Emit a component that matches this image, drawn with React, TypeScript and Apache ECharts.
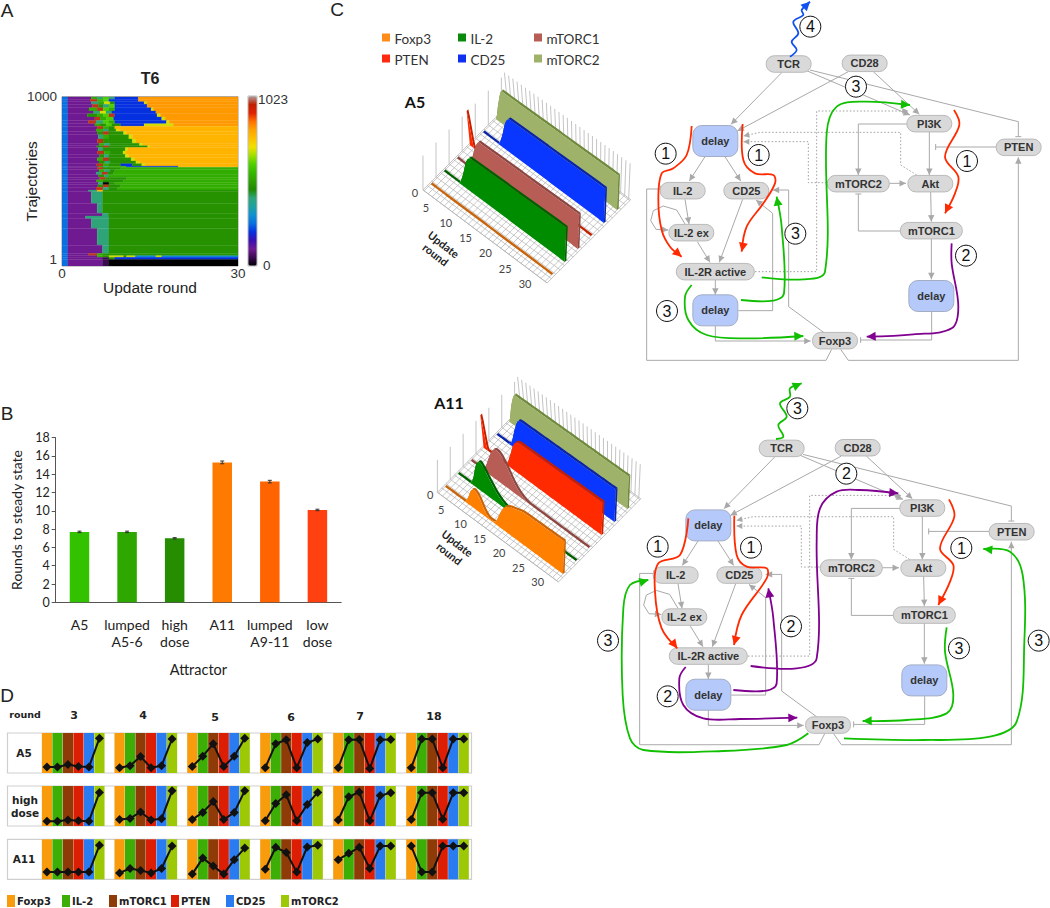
import React, { useEffect, useRef } from "react";
import * as echarts from "echarts";

// ---------- Panel A data ----------
const B = 255, P = 102, T = 410, G = 480, L = 540, O = 790, U = 830, K = 205, Y = 700, S = 980, D = 50, C = 300, E = 0, M = 610;
const heatRows: [number, number, number[]][] = [
  [1000, 985, [1, B, 5, P, 6, L, 7, T, 8, M, 9, T, 13, K, 30, U]],
  [985, 970, [1, B, 4.8, P, 6, S, 7, L, 8, M, 9.2, K, 13, K, 30, U]],
  [970, 955, [1, B, 5, P, 6.3, T, 7.2, L, 8.2, Y, 9, G, 14, K, 14.5, Y, 30, U]],
  [955, 935, [1, B, 5.2, P, 6.2, S, 7, G, 8, T, 9, M, 14.5, K, 30, U]],
  [935, 915, [1, B, 4.6, P, 6, L, 7, S, 8, M, 9, L, 15.2, K, 15.6, Y, 30, U]],
  [915, 900, [1, B, 5.4, P, 6.5, T, 7.5, Y, 8.5, T, 16, K, 30, U]],
  [900, 880, [1, B, 4.3, P, 6, G, 7, L, 8, M, 9, S, 16.2, K, 16.8, Y, 30, U]],
  [880, 860, [1, B, 5.6, P, 6.5, S, 7.6, L, 8.8, M, 17, K, 17.6, Y, 30, U]],
  [860, 840, [1, B, 4.5, P, 5.8, S, 7, T, 8, M, 9, L, 17.8, K, 18.3, Y, 30, U]],
  [840, 826, [1, B, 5.6, P, 6.5, L, 7.5, G, 8.5, M, 10, G, 14, K, 19, Y, 30, U]],
  [826, 810, [1, B, 6, P, 7, S, 8, L, 9, G, 30, O]],
  [810, 795, [1, B, 5.8, P, 7, L, 8, T, 9.2, G, 9.8, Y, 30, O]],
  [795, 775, [1, B, 6, P, 7, G, 8, S, 10.5, G, 11, Y, 30, O]],
  [775, 750, [1, B, 6.2, P, 7, T, 8, L, 11.4, G, 12, Y, 30, O]],
  [750, 725, [1, B, 6, P, 7, S, 8, G, 12, G, 12.6, Y, 30, O]],
  [725, 710, [1, B, 6.3, P, 7.2, L, 8.2, T, 13.2, G, 13.8, Y, 30, O]],
  [710, 700, [1, B, 5.9, P, 7, G, 8, S, 14.6, G, 15, Y, 30, O]],
  [700, 680, [1, B, 6.2, P, 7, T, 8, G, 10.8, G, 11.2, Y, 30, O]],
  [680, 660, [1, B, 6, P, 7.2, S, 8.2, L, 10.4, G, 10.9, Y, 30, O]],
  [660, 640, [1, B, 6.4, P, 7.2, G, 8, T, 10.8, G, 11.4, Y, 30, O]],
  [640, 620, [1, B, 6, P, 7, L, 8, S, 11.8, G, 12.4, Y, 30, O]],
  [620, 605, [1, B, 6.3, P, 7.3, G, 8.2, T, 12.6, G, 13.2, Y, 30, O]],
  [605, 590, [1, B, 5.9, P, 7, S, 8, L, 10, G, 12, K, 13.6, G, 14.2, Y, 30, O]],
  [590, 583, [1, B, 6.1, P, 7, G, 8, T, 11, L, 19.8, K, 30, O]],
  [583, 570, [1, B, 6, P, 7, S, 8, G, 10, G, 11, L, 30, L]],
  [570, 555, [1, B, 6.3, P, 7.2, L, 8.2, T, 9, G, 30, L]],
  [555, 540, [1, B, 5.8, P, 6.8, T, 7.8, S, 8.8, G, 30, L]],
  [540, 525, [1, B, 6.2, P, 7.2, G, 8, T, 30, L]],
  [525, 510, [1, B, 6.4, P, 7.4, S, 8.1, G, 11, G, 30, L]],
  [510, 495, [1, B, 5.9, P, 7, L, 8, G, 10.5, G, 30, L]],
  [495, 480, [1, B, 6.2, P, 7, T, 8, E, 9, G, 30, L]],
  [480, 465, [1, B, 6.1, P, 7, G, 8, S, 10, G, 30, L]],
  [465, 449, [1, B, 5.8, P, 7, S, 8, T, 9.5, G, 30, L]],
  [449, 439, [1, B, 4.5, P, 6, T, 7, O, 9, G, 30, G]],
  [439, 370, [1, B, 5, P, 6.9, T, 30, G]],
  [370, 312, [1, B, 6, P, 6.9, T, 30, G]],
  [312, 296, [1, B, 6.9, P, 7.9, T, 30, G]],
  [296, 280, [1, B, 4, P, 8, T, 30, G]],
  [280, 223, [1, B, 5, P, 8, T, 30, G]],
  [223, 124, [1, B, 6, P, 8, T, 30, G]],
  [124, 75, [1, B, 6.9, P, 8, T, 30, G]],
  [75, 62, [1, B, 4.5, P, 6, S, 7, L, 8, G, 30, G]],
  [62, 52, [1, B, 6, P, 7, L, 8, G, 10.5, Y, 11, G, 12.5, Y, 16, C, 17, Y, 30, C]],
  [52, 40, [1, B, 6.9, P, 8, D, 9, G, 30, K]],
  [40, 1, [1, B, 6.9, P, 8, D, 30, E]],
];
const colorbarStops = ["#000000", "#3a0a50", "#701a92", "#3a10b0", "#0530e0", "#0a70e0", "#1090d0", "#20a0a0", "#2fa47a", "#208a00", "#2fa000", "#35b800", "#50d000", "#a0e000", "#f0e000", "#ffc000", "#ffa500", "#ff7000", "#e02000", "#c02000", "#b0a0a0"];

// ---------- Panel B data ----------
const attractors = ["A5", "lumped\nA5-6", "high\ndose", "A11", "lumped\nA9-11", "low\ndose"];
const roundsToSteady = [7.7, 7.7, 7.0, 15.3, 13.2, 10.1];
const steadyError = [0.08, 0.08, 0.07, 0.15, 0.14, 0.08];
const attractorColors = ["#33c200", "#2ea800", "#268c00", "#ff7a00", "#ff6400", "#ff4010"];

// ---------- Panel D data ----------
const dGenes = ["Foxp3", "IL-2", "mTORC1", "PTEN", "CD25", "mTORC2"];
const dColors = ["#f89c0e", "#3dae05", "#8f3b08", "#dc1e05", "#2a7af0", "#9cc805"];
const dRounds = ["3", "4", "5", "6", "7", "18"];
const dA5 = [[.15, .15, .21, .16, .15, .87], [.13, .18, .41, .13, .18, .85], [.16, .42, .73, .16, .42, .87], [.13, .73, .83, .13, .76, .85], [.13, .83, .84, .11, .83, .84], [.13, .85, .85, .13, .85, .85]];
const dHigh = [[.12, .12, .15, .13, .12, .84], [.16, .19, .35, .15, .18, .88], [.16, .34, .61, .16, .34, .88], [.13, .56, .78, .13, .54, .84], [.15, .73, .85, .13, .76, .83], [.16, .83, .83, .17, .83, .83]];
const dA11 = [[.18, .18, .18, .18, .18, .85], [.16, .27, .22, .16, .27, .83], [.13, .53, .33, .13, .49, .78], [.25, .8, .67, .18, .81, .85], [.49, .65, .8, .27, .83, .83], [.83, .18, .18, .83, .83, .83]];
const dRows = [dA5, dHigh, dA11];

// ---------- Panel C waterfall data: activity per update round 0..30 ----------
const wRounds = [0, 5, 10, 15, 20, 25, 30];
const a5Levels: number[][] = [
  [0, 0, 0, 0, 0, 0, 0, 0, 0, 0, 0, 0, 0, 0, 0, 0, 0, 0, 0, 0, 0, 0, 0, 0, 0, 0, 0, 0, 0, 0, 0],
  [0, 0, 0, 0, .03, .35, .8, 1, 1, 1, 1, 1, 1, 1, 1, 1, 1, 1, 1, 1, 1, 1, 1, 1, 1, 1, 1, 1, 1, 1, 1],
  [0, 0, 0, .05, .35, .75, 1, 1, 1, 1, 1, 1, 1, 1, 1, 1, 1, 1, 1, 1, 1, 1, 1, 1, 1, 1, 1, 1, 1, 1, 1],
  [1, 0, 0, 0, 0, 0, 0, 0, 0, 0, 0, 0, 0, 0, 0, 0, 0, 0, 0, 0, 0, 0, 0, 0, 0, 0, 0, 0, 0, 0, 0],
  [0, 0, 0, 0, .03, .35, .8, 1, 1, 1, 1, 1, 1, 1, 1, 1, 1, 1, 1, 1, 1, 1, 1, 1, 1, 1, 1, 1, 1, 1, 1],
  [0, .55, 1, 1, 1, 1, 1, 1, 1, 1, 1, 1, 1, 1, 1, 1, 1, 1, 1, 1, 1, 1, 1, 1, 1, 1, 1, 1, 1, 1, 1],
];
const a11Levels: number[][] = [
  [0, 0, 0, 0, 0, 0, .2, .52, .58, .45, .22, .07, .04, .1, .4, .68, .82, .88, .92, .96, 1, 1, 1, 1, 1, 1, 1, 1, 1, 1, 1],
  [0, 0, 0, 0, .2, .7, .9, .8, .62, .45, .3, .2, .13, .08, .03, 0, 0, 0, 0, 0, 0, 0, 0, 0, 0, 0, 0, 0, 0, 0, 0],
  [0, 0, 0, .02, .2, .55, .85, .95, .9, .75, .55, .35, .2, .1, .03, 0, 0, 0, 0, 0, 0, 0, 0, 0, 0, 0, 0, 0, 0, 0, 0],
  [1, 0, 0, 0, 0, 0, .05, .4, .8, .97, 1, 1, 1, 1, 1, 1, 1, 1, 1, 1, 1, 1, 1, 1, 1, 1, 1, 1, 1, 1, 1],
  [0, 0, 0, 0, .15, .6, .95, 1, 1, 1, 1, 1, 1, 1, 1, 1, 1, 1, 1, 1, 1, 1, 1, 1, 1, 1, 1, 1, 1, 1, 1],
  [0, .6, 1, 1, 1, 1, 1, 1, 1, 1, 1, 1, 1, 1, 1, 1, 1, 1, 1, 1, 1, 1, 1, 1, 1, 1, 1, 1, 1, 1, 1],
];
const wFace = ["#ff7f00", "#008c00", "#b85c56", "#ff2a00", "#0a37ff", "#9fb26a"];
const wTop = ["#c8640a", "#006000", "#8e4640", "#c42000", "#0a24a8", "#6f8a3a"];
const cLegend = ["Foxp3", "IL-2", "mTORC1", "PTEN", "CD25", "mTORC2"];
const cLegendColors = ["#ff8c1a", "#0a8a0a", "#b85c56", "#ff2a10", "#1030f0", "#9fb26a"];

// ---------- Panel C network ----------
type Pt = [number, number];
const nodes: [string, number, number, number, boolean][] = [
  ["TCR", 476, 192, 135, false], ["CD28", 704, 190, 135, false], ["PI3K", 898, 371, 135, false], ["PTEN", 1166, 442, 135, false],
  ["delay", 256, 423, 135, true], ["IL-2", 158, 572, 135, false], ["CD25", 349, 572, 135, false], ["mTORC2", 685, 551, 186, false],
  ["Akt", 901, 551, 135, false], ["mTORC1", 904, 692, 186, false], ["IL-2 ex", 184, 698, 135, false], ["IL-2R active", 256, 815, 234, false],
  ["delay", 256, 931, 135, true], ["delay", 904, 888, 135, true], ["Foxp3", 615, 1022, 135, false],
];
const arrowEdges: Pt[][] = [
  [[455, 218], [303, 373]], [[655, 215], [322, 393]], [[530, 212], [840, 345]], [[730, 215], [868, 343]],
  [[832, 372], [685, 372], [685, 525]], [[898, 395], [898, 525]], [[778, 550], [828, 550]], [[902, 575], [904, 665]],
  [[904, 715], [904, 838]], [[225, 470], [178, 543]], [[285, 470], [332, 543]], [[165, 598], [177, 672]],
  [[165, 672], [140, 630], [100, 618], [70, 632], [62, 662], [78, 688], [115, 690]], [[202, 725], [240, 787]], [[338, 598], [268, 787]],
  [[256, 840], [256, 884]], [[325, 932], [428, 932], [428, 640], [378, 600]], [[256, 978], [256, 1023], [542, 1023]],
  [[582, 998], [476, 920], [476, 570], [428, 570]], [[632, 1048], [655, 1081], [1165, 1081], [1165, 472]],
];
const barEdges: Pt[][] = [
  [[540, 210], [1165, 365], [1165, 410]], [[812, 693], [685, 693], [685, 582]], [[905, 935], [905, 1020], [692, 1020]],
  [[1098, 441], [917, 441]], [[605, 1048], [588, 1081], [50, 1081], [50, 567], [92, 567]],
];
const dottedEdges: Pt[][] = [
  [[375, 815], [560, 815], [560, 333], [835, 333]],
  [[860, 525], [812, 495], [812, 397], [390, 397], [340, 408]],
  [[590, 548], [535, 548], [535, 425], [340, 425]],
];
const RED = "#ff2a00", GRN = "#10c000", PUR = "#800090", BLU = "#1050f0";
const overlay1: [string, Pt[]][] = [
  [BLU, [[480, 170], [500, 150], [485, 125], [505, 100], [490, 65], [520, 45], [515, 30], [540, 5]]],
  [RED, [[185, 378], [170, 465], [130, 505], [95, 520], [85, 600], [95, 690], [120, 740], [155, 770]]],
  [RED, [[338, 372], [340, 480], [375, 520], [430, 525], [435, 550], [400, 610], [350, 680], [335, 755]]],
  [RED, [[972, 330], [988, 375], [945, 470], [985, 530], [975, 580], [945, 640]]],
  [GRN, [[395, 832], [520, 838], [585, 815], [590, 400], [620, 320], [700, 305], [840, 315]]],
  [GRN, [[333, 900], [430, 902], [462, 880], [455, 680], [440, 590]]],
  [GRN, [[185, 855], [165, 890], [175, 960], [230, 1005], [350, 1015], [520, 1008]]],
  [PUR, [[965, 730], [965, 790], [985, 920], [965, 985], [850, 1003], [710, 1010]]],
];
const circles1: [string, number, number][] = [["4", 541, 80], ["3", 678, 260], ["1", 107, 461], ["1", 386, 465], ["1", 1011, 483], ["2", 1008, 767], ["3", 496, 701], ["3", 111, 933]];
const overlay2: [string, Pt[]][] = [
  [GRN, [[558, 192], [580, 185], [565, 150], [590, 125], [570, 85], [600, 65], [600, 40], [635, 25]]],
  [RED, [[295, 430], [270, 540], [205, 565], [195, 650], [215, 760], [262, 820]]],
  [RED, [[433, 422], [440, 540], [470, 575], [530, 580], [530, 610], [455, 720], [432, 810]]],
  [RED, [[1077, 373], [1093, 425], [1050, 520], [1090, 570], [1080, 620], [1045, 690]]],
  [PUR, [[482, 873], [620, 880], [680, 850], [680, 500], [690, 400], [740, 350], [810, 345], [925, 355]]],
  [PUR, [[430, 945], [530, 947], [560, 925], [550, 730], [535, 640]]],
  [PUR, [[287, 876], [268, 910], [280, 990], [340, 1030], [450, 1032], [622, 1028]]],
  [GRN, [[1070, 757], [1065, 830], [1090, 960], [1070, 1015], [950, 1035], [818, 1038]]],
  [GRN, [[655, 1075], [590, 1110], [400, 1128], [160, 1125], [120, 1090], [98, 960], [100, 700], [120, 630], [175, 615]]],
  [GRN, [[762, 1090], [1000, 1095], [1200, 1085], [1280, 1040], [1303, 800], [1298, 600], [1260, 530], [1180, 522]]],
];
const circles2: [string, number, number][] = [["3", 622, 100], ["2", 769, 296], ["1", 203, 515], ["1", 483, 518], ["1", 1114, 519], ["3", 1107, 820], ["2", 603, 754], ["2", 233, 964], ["3", 54, 797], ["3", 1346, 797]];

const HELV = "'Liberation Sans', Arial, sans-serif";
const CAL = "Lato, 'Open Sans', sans-serif";
const VERD = "'DejaVu Sans', sans-serif";

function txt(text: string, x: number, y: number, font: string, fill = "#222", align = "center", rotation = 0, z = 50) {
  return {
    type: "text", x, y, rotation, z, silent: true,
    style: { text, font, fill, align, textAlign: align, verticalAlign: "middle", textVerticalAlign: "middle", lineHeight: 13 },
  };
}
function arrowHead(a: Pt, b: Pt, len: number, hw: number, color: string, z: number) {
  const dx = b[0] - a[0], dy = b[1] - a[1], n = Math.hypot(dx, dy) || 1;
  const ux = dx / n, uy = dy / n;
  const bx = b[0] - ux * len, by = b[1] - uy * len;
  return {
    type: "polygon", z, silent: true,
    shape: { points: [b, [bx - uy * hw, by + ux * hw], [bx + uy * hw, by - ux * hw]] },
    style: { fill: color },
  };
}
function networkElements(map: (p: Pt) => Pt, overlayMap: (p: Pt) => Pt, overlays: [string, Pt[]][], circles: [string, number, number][]) {
  const out: any[] = [];
  const Z = 30;
  const gray = "#a9a9a9";
  arrowEdges.forEach((e) => {
    const pts = e.map(map);
    out.push({ type: "polyline", z: Z, silent: true, shape: { points: pts }, style: { stroke: gray, lineWidth: 1, fill: null } });
    out.push(arrowHead(pts[pts.length - 2], pts[pts.length - 1], 6.5, 3.2, gray, Z));
  });
  barEdges.forEach((e) => {
    const pts = e.map(map);
    out.push({ type: "polyline", z: Z, silent: true, shape: { points: pts }, style: { stroke: gray, lineWidth: 1, fill: null } });
    const a = pts[pts.length - 2], b = pts[pts.length - 1];
    const dx = b[0] - a[0], dy = b[1] - a[1], n = Math.hypot(dx, dy) || 1;
    out.push({ type: "line", z: Z, silent: true, shape: { x1: b[0] - (dy / n) * 3, y1: b[1] + (dx / n) * 3, x2: b[0] + (dy / n) * 3, y2: b[1] - (dx / n) * 3 }, style: { stroke: gray, lineWidth: 1 } });
  });
  dottedEdges.forEach((e) => {
    const pts = e.map(map);
    out.push({ type: "polyline", z: Z, silent: true, shape: { points: pts }, style: { stroke: "#a0a0a0", lineWidth: 1, lineDash: [1.5, 2], fill: null } });
    out.push(arrowHead(pts[pts.length - 2], pts[pts.length - 1], 6, 3, gray, Z));
  });
  nodes.forEach(([name, zx, zy, zw, blue]) => {
    const c = map([zx, zy]);
    const w = zw / 3, h = blue ? 31 : 16.5;
    out.push({
      type: "rect", z: Z + 1, silent: true,
      shape: { x: c[0] - w / 2, y: c[1] - h / 2, width: w, height: h, r: blue ? 9 : 8 },
      style: { fill: blue ? "#b5c9fa" : "#d9d9d9", stroke: blue ? "#a3adc4" : "#b9b9b9", lineWidth: 1 },
    });
    out.push(txt(name, c[0], c[1], `bold 11px ${HELV}`, "#333", "center", 0, Z + 2));
  });
  overlays.forEach(([color, raw]) => {
    const pts = raw.map(overlayMap);
    out.push({ type: "polyline", z: Z + 3, silent: true, shape: { points: pts, smooth: 0.35 }, style: { stroke: color, lineWidth: 1.8, fill: null } });
    out.push(arrowHead(pts[pts.length - 2], pts[pts.length - 1], 9, 4.5, color, Z + 3));
  });
  circles.forEach(([label, zx, zy]) => {
    const c = overlayMap([zx, zy]);
    out.push({ type: "circle", z: Z + 4, silent: true, shape: { cx: c[0], cy: c[1], r: 10.5 }, style: { fill: "#fff", stroke: "#111", lineWidth: 1 } });
    out.push(txt(label, c[0], c[1], `16px ${HELV}`, "#111", "center", 0, Z + 5));
  });
  return out;
}

function levelAt(arr: number[], t: number) {
  const i = Math.min(Math.floor(t), arr.length - 2);
  const f = t - i;
  const p0 = arr[Math.max(i - 1, 0)], p1 = arr[i], p2 = arr[i + 1], p3 = arr[Math.min(i + 2, arr.length - 1)];
  const v = 0.5 * (2 * p1 + (p2 - p0) * f + (2 * p0 - 5 * p1 + 4 * p2 - p3) * f * f + (3 * p1 - p0 - 3 * p2 + p3) * f * f * f);
  return Math.max(0, Math.min(1, v));
}
type Proj = { ox: number; oy: number; vx: number; vy: number; rx: number; ry: number; h: number };
const projA5: Proj = { ox: 430.7, oy: 184.3, vx: 13.07, vy: -13, rx: 4.03, ry: 3.02, h: 34.3 };
const projA11: Proj = { ox: 445, oy: 486.7, vx: 12.87, vy: -13, rx: 3.93, ry: 2.91, h: 32.5 };
function project(p: Proj, v: number, r: number, l: number): Pt {
  const lean = -3.3 + (4.7 * r) / 30;
  return [p.ox + p.vx * v + p.rx * r + lean * l, p.oy + p.vy * v + p.ry * r - p.h * l];
}

function waterfallSeries(p: Proj, levels: number[][], overlayAxis: number) {
  const common = { type: "custom", xAxisIndex: overlayAxis, yAxisIndex: overlayAxis, silent: true, clip: false, animation: false };
  const series: any[] = [];
  // floor and walls
  series.push({
    ...common, data: [[0, 0]],
    renderItem: (_: any, api: any) => {
      const c = (q: Pt) => api.coord(q);
      const ch: any[] = [];
      const v0 = -0.5, v1 = 5.9, r0 = -0.3, r1 = 30.5;
      ch.push({ type: "polygon", shape: { points: [project(p, v0, r0, 0), project(p, v1, r0, 0), project(p, v1, r1, 0), project(p, v0, r1, 0)].map(c) }, style: { fill: "#fff", stroke: "#aaa", lineWidth: 0.7 } });
      for (let r = 0; r <= 30; r++) ch.push({ type: "line", shape: { x1: c(project(p, v0, r, 0))[0], y1: c(project(p, v0, r, 0))[1], x2: c(project(p, v1, r, 0))[0], y2: c(project(p, v1, r, 0))[1] }, style: { stroke: "#b0b0b0", lineWidth: 0.7 } });
      for (let v = v0; v <= v1; v += 1 / 3) ch.push({ type: "line", shape: { x1: c(project(p, v, r0, 0))[0], y1: c(project(p, v, r0, 0))[1], x2: c(project(p, v, r1, 0))[0], y2: c(project(p, v, r1, 0))[1] }, style: { stroke: "#b0b0b0", lineWidth: 0.7 } });
      for (let v = v0; v <= v1; v += 1) { const a = c(project(p, v, r0, 0)), b = c(project(p, v, r0, 1)); ch.push({ type: "line", shape: { x1: a[0], y1: a[1], x2: a[0], y2: b[1] }, style: { stroke: "#bdbdbd", lineWidth: 0.9 } }); }
      for (let r = 0; r <= 30; r++) { const a = c(project(p, v1, r, 0)), b = c(project(p, v1, r, 1.02)); ch.push({ type: "line", shape: { x1: a[0], y1: a[1], x2: b[0], y2: b[1] }, style: { stroke: "#bdbdbd", lineWidth: 0.9 } }); }
      return { type: "group", children: ch };
    },
  });
  // back to front: ribbons
  for (let vi = 5; vi >= 0; vi--) {
    const arr = levels[vi];
    series.push({
      ...common,
      data: arr.map((l, r) => [r, l]),
      renderItem: (params: any, api: any) => {
        if (params.dataIndex !== 0) return null;
        const c = (q: Pt) => api.coord(q);
        const top: Pt[] = [];
        const base: Pt[] = [];
        for (let t = 0; t <= 30.001; t += 0.25) {
          top.push(project(p, vi, t, levelAt(arr, Math.min(t, 30))));
          base.push(project(p, vi, t, 0));
        }
        const back = top.map(([x, y]) => [x + 1.7, y - 1.7] as Pt);
        const last = top[top.length - 1], lastB = base[base.length - 1];
        const ch: any[] = [
          { type: "polygon", shape: { points: [...top, ...back.slice().reverse()].map(c) }, style: { fill: wTop[vi] } },
          { type: "polygon", shape: { points: [...top, ...base.slice().reverse()].map(c) }, style: { fill: wFace[vi] } },
          { type: "polygon", shape: { points: [last, [last[0] + 1.7, last[1] - 1.7] as Pt, [lastB[0] + 1.7, lastB[1] - 1.7] as Pt, lastB].map(c) }, style: { fill: wTop[vi] } },
        ];
        return { type: "group", children: ch };
      },
    });
  }
  return series;
}
function waterfallLabels(p: Proj) {
  const out: any[] = [];
  const s = p.h / 34.3;
  wRounds.forEach((r) => {
    const b = project(p, 0, r, 0);
    const dx = r === 0 ? 15.7 * s : (24.5 + r * 0.07) * s;
    out.push(txt(String(r), b[0] - dx, b[1] + 8.2 * s, `11px ${CAL}`, "#444"));
  });
  out.push(txt("Update\nround", p.ox + 9 * s, p.oy + 65 * s, `bold 11px ${CAL}`, "#222", "center", -0.66));
  return out;
}

export default function App() {
  const ref = useRef<HTMLDivElement>(null);
  useEffect(() => {
    const chart = echarts.init(ref.current!, undefined, { renderer: "svg" });

    const heatCells: number[][] = [];
    heatRows.forEach(([top, bottom, runs]) => {
      let x0 = 0;
      for (let i = 0; i < runs.length; i += 2) {
        if (runs[i] > x0) heatCells.push([x0, runs[i], top, bottom, runs[i + 1]]);
        x0 = Math.max(x0, runs[i]);
      }
    });

    const grids: any[] = [
      { left: 62, top: 96.7, width: 176, height: 169.3, show: true, borderColor: "#999", borderWidth: 1 },
      { left: 55.7, top: 437.7, width: 285.5, height: 164.6 },
    ];
    const xAxes: any[] = [
      {
        gridIndex: 0, type: "value", min: 0, max: 30, splitLine: { show: false },
        axisLine: { show: false }, axisTick: { show: false },
        axisLabel: { customValues: [0, 30], fontFamily: HELV, fontSize: 13.5, color: "#333", margin: 0 },
        name: "Update round", nameLocation: "middle", nameGap: 13, nameMoveOverlap: false, nameTextStyle: { fontFamily: HELV, fontSize: 15.5, color: "#222" },
      },
      {
        gridIndex: 1, type: "category", data: attractors,
        axisLine: { lineStyle: { color: "#555" } }, axisTick: { length: 4, lineStyle: { color: "#555" }, alignWithLabel: false },
        axisLabel: { fontFamily: CAL, fontSize: 14, color: "#222", margin: 14, lineHeight: 16.5, interval: 0 },
        name: "Attractor", nameLocation: "middle", nameGap: 60, nameTextStyle: { fontFamily: CAL, fontSize: 14.5, color: "#222" },
      },
    ];
    const yAxes: any[] = [
      {
        gridIndex: 0, type: "value", min: 1, max: 1000, splitLine: { show: false },
        axisLine: { show: false }, axisTick: { show: false },
        axisLabel: { customValues: [1, 1000], formatter: (v: number) => String(v), fontFamily: HELV, fontSize: 13.5, color: "#333", margin: 5, verticalAlignMinLabel: "bottom" },
        name: "Trajectories", nameLocation: "middle", nameGap: 23, nameMoveOverlap: false, nameTextStyle: { fontFamily: HELV, fontSize: 15.5, color: "#222" },
      },
      {
        gridIndex: 1, type: "value", min: 0, max: 18, interval: 2, splitLine: { show: false },
        axisLine: { show: true, lineStyle: { color: "#555" } }, axisTick: { show: true, length: 4, lineStyle: { color: "#555" } },
        axisLabel: { fontFamily: CAL, fontSize: 12.5, color: "#222", margin: 6 },
        name: "Rounds to steady state", nameLocation: "middle", nameGap: 32, nameTextStyle: { fontFamily: CAL, fontSize: 14, color: "#222" },
      },
    ];
    const series: any[] = [
      {
        type: "custom", xAxisIndex: 0, yAxisIndex: 0, data: heatCells, silent: true, clip: true,
        encode: { x: [0, 1], y: [2, 3] },
        renderItem: (_: any, api: any) => {
          const a = api.coord([api.value(0), api.value(2)]);
          const b = api.coord([api.value(1), api.value(3)]);
          const color = api.visual("color");
          return { type: "rect", shape: { x: a[0], y: a[1], width: b[0] - a[0], height: b[1] - a[1] }, style: { fill: color, stroke: color, lineWidth: 0.3 } };
        },
      },
      {
        type: "bar", xAxisIndex: 1, yAxisIndex: 1, barWidth: 19.5, silent: true,
        data: roundsToSteady.map((v, i) => ({ value: v, itemStyle: { color: attractorColors[i] } })),
      },
      {
        type: "custom", xAxisIndex: 1, yAxisIndex: 1, silent: true, z: 5,
        data: roundsToSteady.map((v, i) => [i, v - steadyError[i], v + steadyError[i]]),
        renderItem: (_: any, api: any) => {
          const lo = api.coord([api.value(0), api.value(1)]);
          const hi = api.coord([api.value(0), api.value(2)]);
          const st = { stroke: "#333", lineWidth: 1 };
          return {
            type: "group", children: [
              { type: "line", shape: { x1: lo[0], y1: lo[1], x2: hi[0], y2: hi[1] }, style: st },
              { type: "line", shape: { x1: lo[0] - 2, y1: lo[1], x2: lo[0] + 2, y2: lo[1] }, style: st },
              { type: "line", shape: { x1: hi[0] - 2, y1: hi[1], x2: hi[0] + 2, y2: hi[1] }, style: st },
            ],
          };
        },
      },
    ];

    // Panel D small multiples
    const dLeft = [41.7, 114.3, 187, 260, 333, 406];
    const dTop = [733, 786, 839.3];
    dRows.forEach((row, ri) => {
      row.forEach((vals, ci) => {
        const idx = grids.length;
        grids.push({ left: dLeft[ci], top: dTop[ri], width: 63, height: 40 });
        xAxes.push({ gridIndex: idx, type: "category", data: dGenes, show: false });
        yAxes.push({ gridIndex: idx, type: "value", min: 0, max: 1, show: false });
        series.push({
          type: "bar", xAxisIndex: idx, yAxisIndex: idx, barWidth: "97%", silent: true,
          data: dColors.map((c) => ({ value: 1, itemStyle: { color: c } })),
        });
        series.push({
          type: "line", xAxisIndex: idx, yAxisIndex: idx, data: vals, silent: true, z: 6,
          symbol: "diamond", symbolSize: 9, showSymbol: true, showAllSymbol: true,
          lineStyle: { color: "#111", width: 2 }, itemStyle: { color: "#111" },
        });
      });
    });

    // Overlay grid for the two 3-D waterfalls
    const ov = grids.length;
    grids.push({ left: 0, top: 0, width: 1050, height: 908 });
    xAxes.push({ gridIndex: ov, type: "value", min: 0, max: 1050, show: false });
    yAxes.push({ gridIndex: ov, type: "value", min: 0, max: 908, inverse: true, show: false });
    series.push(...waterfallSeries(projA5, a5Levels, ov));
    series.push(...waterfallSeries(projA11, a11Levels, ov));

    const gfx: any[] = [];
    gfx.push(txt("A", 7, 10, `19px ${HELV}`, "#222"));
    gfx.push(txt("B", 7, 413, `19px ${HELV}`, "#222"));
    gfx.push(txt("C", 337, 9, `19px ${HELV}`, "#222"));
    gfx.push(txt("D", 7, 695, `19px ${HELV}`, "#222"));
    gfx.push(txt("T6", 150, 78, `bold 16px ${HELV}`, "#222"));
    gfx.push(txt("1023", 258, 99, `13.5px ${HELV}`, "#333", "left"));
    gfx.push(txt("0", 263, 265, `13.5px ${HELV}`, "#333", "left"));
    gfx.push({ type: "rect", z: 10, silent: true, shape: { x: 248, y: 96, width: 9, height: 170 }, style: { fill: null, stroke: "#bbb", lineWidth: 1 } });

    // D furniture
    dTop.forEach((t) => {
      gfx.push({ type: "rect", z: 0, silent: true, shape: { x: 7.5, y: t, width: 464, height: 40 }, style: { fill: "#fff", stroke: "#cfcfcf", lineWidth: 1.2 } });
    });
    gfx.push(txt("round", 25, 714, `bold 9.5px ${VERD}`, "#222"));
    const dRoundX = [74, 143, 215, 291, 360, 434];
    const dRoundY = [715, 715, 717, 717, 716, 716];
    dRounds.forEach((r, i) => gfx.push(txt(r, dRoundX[i], dRoundY[i], `bold 11px ${VERD}`, "#222")));
    gfx.push(txt("A5", 24, 753, `bold 10.5px ${VERD}`, "#222"));
    gfx.push(txt("high\ndose", 25, 806, `bold 10.5px ${VERD}`, "#222"));
    gfx.push(txt("A11", 24, 859, `bold 10.5px ${VERD}`, "#222"));
    const dLegSq = [7, 62, 109, 171, 226, 281];
    dGenes.forEach((g, i) => {
      gfx.push({ type: "rect", z: 1, silent: true, shape: { x: dLegSq[i], y: 895, width: 8, height: 12 }, style: { fill: dColors[i] } });
      gfx.push(txt(g, dLegSq[i] + 10, 901, `bold 10px ${VERD}`, "#222", "left"));
    });

    // C legend
    const cLegX = [382, 458, 534];
    cLegend.forEach((g, i) => {
      const col = [0, 1, 2, 0, 1, 2][i];
      const y = i < 3 ? 37.5 : 58.5;
      gfx.push({ type: "rect", z: 1, silent: true, shape: { x: cLegX[col], y: y - 4, width: 8, height: 8 }, style: { fill: cLegendColors[i] } });
      gfx.push(txt(g, cLegX[col] + 12.5, y + 1, `13.5px ${CAL}`, "#333", "left"));
    });
    gfx.push(txt("A5", 415, 101, `bold 16px ${CAL}`, "#111"));
    gfx.push(txt("A11", 449, 402, `bold 16px ${CAL}`, "#111"));
    gfx.push(...waterfallLabels(projA5), ...waterfallLabels(projA11));

    const m1 = (q: Pt): Pt => [630 + q[0] / 3, q[1] / 3];
    const m2 = (q: Pt): Pt => [630 + q[0] / 3 - 7, q[1] / 3 + 384.4];
    const o2 = (q: Pt): Pt => [590 + q[0] / 3, 375 + q[1] / 3];
    gfx.push(...networkElements(m1, m1, overlay1, circles1));
    gfx.push(...networkElements(m2, o2, overlay2, circles2));

    chart.setOption({
      animation: false,
      backgroundColor: "#fff",
      grid: grids, xAxis: xAxes, yAxis: yAxes, series,
      visualMap: {
        type: "continuous", seriesIndex: 0, dimension: 4, min: 0, max: 1023,
        left: 248, top: 96, itemWidth: 9, itemHeight: 170, calculable: false, hoverLink: false, showLabel: false, text: ["", ""], padding: 0,
        inRange: { color: colorbarStops },
      },
      graphic: { elements: gfx },
    });
    return () => chart.dispose();
  }, []);
  return <div ref={ref} style={{ position: "absolute", left: 0, top: 0, width: 1050, height: 908 }} />;
}
